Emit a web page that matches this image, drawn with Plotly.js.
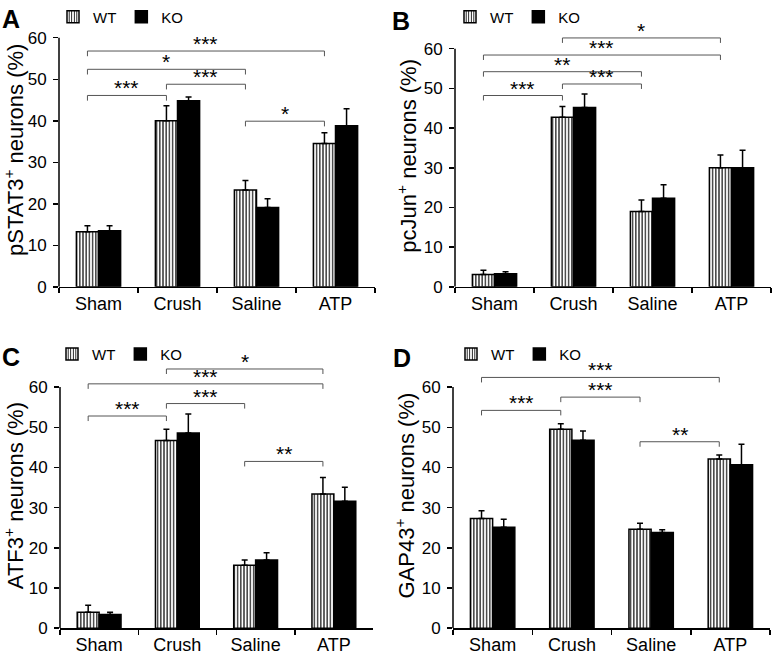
<!DOCTYPE html>
<html>
<head>
<meta charset="utf-8">
<script src="https://cdn.plot.ly/plotly-3.0.1.min.js"></script>
<style>
  body { margin: 0; background: #fff; }
</style>
</head>
<body>
<div id="plot" style="width:775px;height:658px"></div>
<script>
const categories = ["Sham", "Crush", "Saline", "ATP"];

// A: pSTAT3+ neurons (%)
const pstat3Wt = [13.3, 40.0, 23.3, 34.5];
const pstat3WtSem = [1.4, 3.6, 2.3, 2.6];
const pstat3Ko = [13.5, 44.8, 19.1, 38.8];
const pstat3KoSem = [1.2, 0.9, 2.1, 4.1];
// [from, to, level, stars]
const pstat3Sig = [
  ["Sham", "ATP", 56.8, "***"],
  ["Sham", "Saline", 52.4, "*"],
  ["Crush", "Saline", 48.8, "***"],
  ["Sham", "Crush", 46.1, "***"],
  ["Saline", "ATP", 39.9, "*"],
];

// B: pcJun+ neurons (%)
const pcjunWt = [3.1, 42.7, 19.0, 30.0];
const pcjunWtSem = [1.1, 2.7, 2.9, 3.2];
const pcjunKo = [3.3, 45.2, 22.3, 30.0];
const pcjunKoSem = [0.5, 3.4, 3.4, 4.4];
const pcjunSig = [
  ["Crush", "ATP", 62.7, "*"],
  ["Sham", "ATP", 58.4, "***"],
  ["Sham", "Saline", 54.2, "**"],
  ["Crush", "Saline", 51.1, "***"],
  ["Sham", "Crush", 48.2, "***"],
];

// C: ATF3+ neurons (%)
const atf3Wt = [4.0, 46.7, 15.7, 33.4];
const atf3WtSem = [1.7, 2.8, 1.3, 4.1];
const atf3Ko = [3.4, 48.6, 17.0, 31.6];
const atf3KoSem = [0.6, 4.7, 1.8, 3.5];
const atf3Sig = [
  ["Crush", "ATP", 64.5, "*"],
  ["Sham", "ATP", 60.8, "***"],
  ["Crush", "Saline", 55.9, "***"],
  ["Sham", "Crush", 52.8, "***"],
  ["Saline", "ATP", 41.5, "**"],
];

// D: GAP43+ neurons (%)
const gap43Wt = [27.3, 49.5, 24.6, 42.1];
const gap43WtSem = [1.9, 1.4, 1.5, 1.0];
const gap43Ko = [25.1, 46.8, 23.8, 40.7];
const gap43KoSem = [2.0, 2.3, 0.7, 5.1];
const gap43Sig = [
  ["Sham", "ATP", 62.4, "***"],
  ["Crush", "Saline", 57.5, "***"],
  ["Sham", "Crush", 54.2, "***"],
  ["Saline", "ATP", 46.4, "**"],
];

const W = 775, H = 658;
const FONT = "Liberation Sans, Arial, sans-serif";
const BARGAP = 0.44;
const Y_TOP = 66;
const TICK_DROP = 1.25;

// pixel boxes of each panel: left, right, y of 0 and y of 60
const panels = [
  { letter: "A", title: "pSTAT3<sup>+</sup> neurons (%)", wt: pstat3Wt, wtSem: pstat3WtSem, ko: pstat3Ko, koSem: pstat3KoSem, sig: pstat3Sig,
    box: { x0: 59, x1: 375, y0: 284, y60: 33 }, letterPos: [11, 14], legendPos: [53, 12] },
  { letter: "B", title: "pcJun<sup>+</sup> neurons (%)", wt: pcjunWt, wtSem: pcjunWtSem, ko: pcjunKo, koSem: pcjunKoSem, sig: pcjunSig,
    box: { x0: 455, x1: 771, y0: 284, y60: 44 }, letterPos: [401, 16], legendPos: [450, 12] },
  { letter: "C", title: "ATF3<sup>+</sup> neurons (%)", wt: atf3Wt, wtSem: atf3WtSem, ko: atf3Ko, koSem: atf3KoSem, sig: atf3Sig,
    box: { x0: 60, x1: 373, y0: 628, y60: 385 }, letterPos: [11, 355], legendPos: [52, 352] },
  { letter: "D", title: "GAP43<sup>+</sup> neurons (%)", wt: gap43Wt, wtSem: gap43WtSem, ko: gap43Ko, koSem: gap43KoSem, sig: gap43Sig,
    box: { x0: 453, x1: 770, y0: 628, y60: 385 }, letterPos: [402, 356], legendPos: [451, 352] },
];

let data = [];
let layout = {
  width: W,
  height: H,
  margin: { l: 0, r: 0, t: 0, b: 0 },
  paper_bgcolor: "#fff",
  plot_bgcolor: "rgba(0,0,0,0)",
  font: { family: FONT, color: "#000", size: 16 },
  barmode: "group",
  bargap: BARGAP,
  bargroupgap: 0,
  shapes: [],
  annotations: [],
};

// bracket ends sit on the WT bar centres
const wtOffset = -(1 - BARGAP) / 4;

panels.forEach((p, i) => {
  const n = i === 0 ? "" : String(i + 1);
  const xa = "x" + n, ya = "y" + n;
  const legendName = "legend" + n;
  const b = p.box;
  const topPx = b.y0 - (Y_TOP / 60) * (b.y0 - b.y60);

  data.push({
    type: "bar",
    name: "WT",
    x: categories,
    y: p.wt,
    xaxis: xa,
    yaxis: ya,
    legend: legendName,
    marker: {
      color: "#fff",
      line: { color: "#000", width: 1.5 },
      pattern: { shape: "|", fgcolor: "#000", bgcolor: "#fff", size: 3.2, solidity: 0.35 },
    },
    error_y: {
      type: "data", symmetric: false, array: p.wtSem, arrayminus: p.wtSem.map(() => 0),
      color: "#000", thickness: 1.5, width: 3,
    },
    hoverinfo: "skip",
  });
  data.push({
    type: "bar",
    name: "KO",
    x: categories,
    y: p.ko,
    xaxis: xa,
    yaxis: ya,
    legend: legendName,
    marker: { color: "#000", line: { color: "#000", width: 1.5 } },
    error_y: {
      type: "data", symmetric: false, array: p.koSem, arrayminus: p.koSem.map(() => 0),
      color: "#000", thickness: 1.5, width: 3,
    },
    hoverinfo: "skip",
  });

  layout["xaxis" + n] = {
    domain: [b.x0 / W, b.x1 / W],
    anchor: ya,
    type: "category",
    range: [-0.5, 3.5],
    showline: true,
    linecolor: "#000",
    linewidth: 1.5,
    ticks: "outside",
    tickson: "boundaries",
    ticklen: 5,
    tickwidth: 1.5,
    tickcolor: "#000",
    tickfont: { size: 18, family: FONT },
    showgrid: false,
    zeroline: false,
    fixedrange: true,
  };
  layout["yaxis" + n] = {
    domain: [1 - b.y0 / H, 1 - topPx / H],
    anchor: xa,
    range: [0, Y_TOP],
    tickvals: [0, 10, 20, 30, 40, 50, 60],
    showline: false,
    ticks: "outside",
    ticklen: 5,
    tickwidth: 1.5,
    tickcolor: "#000",
    tickfont: { size: 17, family: FONT },
    ticklabelstandoff: 3,
    showgrid: false,
    zeroline: false,
    fixedrange: true,
    title: { text: p.title, font: { size: 22, family: FONT }, standoff: 0 },
  };

  layout[legendName] = {
    orientation: "h",
    x: p.legendPos[0] / W,
    y: 1 - p.legendPos[1] / H,
    xanchor: "left",
    yanchor: "middle",
    font: { size: 15, family: FONT },
    bgcolor: "rgba(0,0,0,0)",
    itemclick: false,
    itemdoubleclick: false,
    traceorder: "normal",
    tracegroupgap: 0,
    itemwidth: 30,
  };

  // y axis line only from 0 to 60
  layout.shapes.push({
    type: "line", xref: xa + " domain", yref: ya,
    x0: 0, x1: 0, y0: 0, y1: 60,
    line: { color: "#000", width: 1.5 },
  });

  // significance brackets
  p.sig.forEach(([from, to, level, stars]) => {
    const xl = categories.indexOf(from) + wtOffset;
    const xr = categories.indexOf(to) + wtOffset;
    const line = { color: "#555", width: 1 };
    layout.shapes.push(
      { type: "line", xref: xa, yref: ya, x0: xl, x1: xl, y0: level - TICK_DROP, y1: level, line },
      { type: "line", xref: xa, yref: ya, x0: xl, x1: xr, y0: level, y1: level, line },
      { type: "line", xref: xa, yref: ya, x0: xr, x1: xr, y0: level - TICK_DROP, y1: level, line }
    );
    layout.annotations.push({
      xref: xa, yref: ya,
      x: (xl + xr) / 2, y: level,
      text: stars,
      showarrow: false,
      xanchor: "center", yanchor: "bottom",
      yshift: -6,
      font: { size: 21, family: FONT, color: "#000" },
    });
  });

  // panel letter
  layout.annotations.push({
    xref: "paper", yref: "paper",
    x: p.letterPos[0] / W, y: 1 - p.letterPos[1] / H,
    text: "<b>" + p.letter + "</b>",
    showarrow: false,
    xanchor: "center", yanchor: "middle",
    font: { size: 25, family: FONT, color: "#000" },
  });
});

Plotly.newPlot("plot", data, layout, { staticPlot: true, displayModeBar: false });
</script>
</body>
</html>
